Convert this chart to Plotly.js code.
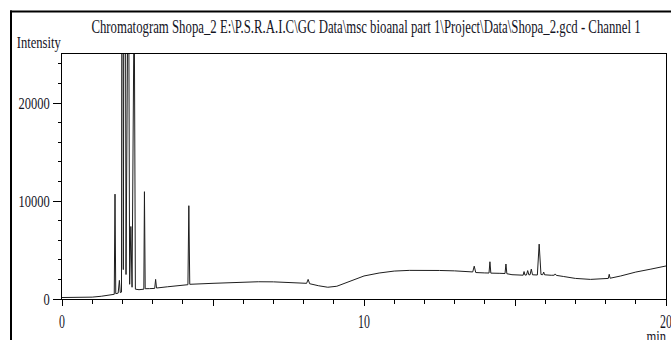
<!DOCTYPE html>
<html>
<head>
<meta charset="utf-8">
<script src="https://cdn.plot.ly/plotly-3.0.1.min.js"></script>
<style>
  html, body { margin: 0; padding: 0; background: #fff; }
  #chart { width: 671px; height: 340px; }
</style>
</head>
<body>
<div id="chart"></div>
<script>
// ---- data (time in min, intensity) ----
const times = [
  0, 0.5, 1.0, 1.3, 1.6, 1.73, 1.755, 1.78, 1.86, 1.90, 1.93, 1.97,
  2.00, 2.03, 2.08, 2.12, 2.20, 2.24, 2.28, 2.32, 2.39, 2.43, 2.55,
  2.71, 2.73, 2.755, 2.90, 3.07, 3.10, 3.13, 3.5, 4.0, 4.17, 4.20, 4.23,
  5.0, 6.0, 6.5, 7.0, 7.6, 8.1, 8.15, 8.2, 8.5, 8.8, 9.1, 9.5, 10.0,
  10.5, 11.0, 11.5, 12.0, 12.5, 13.0, 13.4, 13.6, 13.65, 13.7, 14.0,
  14.14, 14.17, 14.2, 14.5, 14.67, 14.7, 14.73, 14.9, 15.2, 15.27, 15.3,
  15.33, 15.38, 15.42, 15.46, 15.5, 15.54, 15.58, 15.74, 15.8, 15.86,
  15.92, 15.95, 15.98, 16.2, 16.3, 16.33, 16.37, 16.6, 17.0, 17.5, 18.0,
  18.09, 18.12, 18.15, 18.5, 19.0, 19.5, 20.0
];
const intensity = [
  150, 160, 190, 280, 420, 480, 10700, 540, 600, 1900, 650, 700,
  90000, 3000, 70000, 2500, 40000, 1500, 7400, 1200, 32000, 1000, 950,
  1000, 10950, 1050, 1060, 1080, 2000, 1120, 1250, 1420, 1460, 9520, 1500,
  1600, 1720, 1760, 1750, 1690, 1600, 2000, 1560, 1350, 1200, 1300, 1750, 2350,
  2650, 2850, 2920, 2930, 2910, 2870, 2800, 2760, 3350, 2700, 2660,
  2650, 3800, 2640, 2620, 2600, 3570, 2580, 2480, 2420, 2430, 2800,
  2440, 2450, 2900, 2460, 2480, 3050, 2470, 2450, 5600, 2500,
  2480, 2750, 2470, 2420, 2430, 2560, 2410, 2300, 2100, 2000, 2050,
  2100, 2520, 2120, 2350, 2750, 3050, 3370
];
const xTickVals = [0, 5, 10, 15, 20];
const xTickText = ['0', '', '10', '', '20'];
const yTickVals = [0, 10000, 20000];
const yTickText = ['0', '10000', '20000'];
const titleText = 'Chromatogram Shopa_2 E:\\P.S.R.A.I.C\\GC Data\\msc bioanal part 1\\Project\\Data\\Shopa_2.gcd - Channel 1';

// ---- layout geometry (pixels) ----
const W = 671, H = 340;
const L = 62, R = 666, T = 54, B = 299;
const pw = R - L, ph = B - T;
const px = p => (p - L) / pw;
const py = p => (B - p) / ph;
const FONT = 'Liberation Serif, Times New Roman, serif';
const TXT = '#15151f';

const trace = {
  x: times, y: intensity, type: 'scatter', mode: 'lines',
  line: { color: '#1e1e1e', width: 1 }, hoverinfo: 'skip'
};

const layout = {
  width: W, height: H,
  margin: { l: L, r: W - R, t: T, b: H - B, pad: 0 },
  paper_bgcolor: '#fff', plot_bgcolor: '#fff',
  showlegend: false,
  font: { family: FONT, color: TXT, size: 17 },
  title: {
    text: titleText, font: { family: FONT, size: 18, color: TXT },
    xref: 'container', yref: 'container', x: 366 / W, xanchor: 'center',
    y: 1 - 27 / H, yanchor: 'middle'
  },
  xaxis: {
    range: [0, 20], showgrid: false, zeroline: false,
    showline: true, linecolor: '#000', linewidth: 1, mirror: true,
    tickmode: 'array', tickvals: xTickVals, ticktext: xTickText,
    ticks: 'outside', ticklen: 6, tickcolor: '#000', tickwidth: 1,
    ticklabeloverflow: 'allow',
    tickfont: { family: FONT, size: 18, color: TXT },
    minor: { tickmode: 'linear', tick0: 0, dtick: 1, ticks: 'outside', ticklen: 3.5, tickcolor: '#000', tickwidth: 1 },
    fixedrange: true
  },
  yaxis: {
    range: [0, 25000], showgrid: false, zeroline: false,
    showline: true, linecolor: '#000', linewidth: 1, mirror: true,
    tickmode: 'array', tickvals: yTickVals, ticktext: yTickText,
    ticks: 'outside', ticklen: 8, tickcolor: '#000', tickwidth: 1,
    ticklabeloverflow: 'allow',
    tickfont: { family: FONT, size: 16, color: TXT },
    minor: { tickmode: 'linear', tick0: 0, dtick: 2000, ticks: 'outside', ticklen: 3, tickcolor: '#000', tickwidth: 1 },
    fixedrange: true
  },
  shapes: [
    { type: 'line', xref: 'paper', yref: 'paper',
      x0: px(11), x1: px(11), y0: py(10.5), y1: py(360),
      line: { color: '#000', width: 2 } },
    { type: 'line', xref: 'paper', yref: 'paper',
      x0: px(10), x1: px(700), y0: py(11.5), y1: py(11.5),
      line: { color: '#000', width: 2 } }
  ],
  annotations: [
    { text: 'Intensity', xref: 'paper', yref: 'paper', x: px(38.5), y: py(43),
      xanchor: 'center', yanchor: 'middle', showarrow: false,
      font: { family: FONT, size: 17, color: TXT } },
    { text: 'min', xref: 'paper', yref: 'paper', x: px(656), y: py(336),
      xanchor: 'center', yanchor: 'middle', showarrow: false,
      font: { family: FONT, size: 17, color: TXT } }
  ]
};

function squeeze(sel, k) {
  document.querySelectorAll(sel).forEach(t => {
    const w = t.getComputedTextLength();
    if (w > 0) {
      t.setAttribute('textLength', (w * k).toFixed(2));
      t.setAttribute('lengthAdjust', 'spacingAndGlyphs');
    }
  });
}

Plotly.newPlot('chart', [trace], layout, { staticPlot: true, displayModeBar: false }).then(() => {
  squeeze('#chart .gtitle', 0.71);
  squeeze('#chart .xtick text', 0.66);
  squeeze('#chart .ytick text', 0.78);
  squeeze('#chart .annotation-text', 0.74);
});
</script>
</body>
</html>
